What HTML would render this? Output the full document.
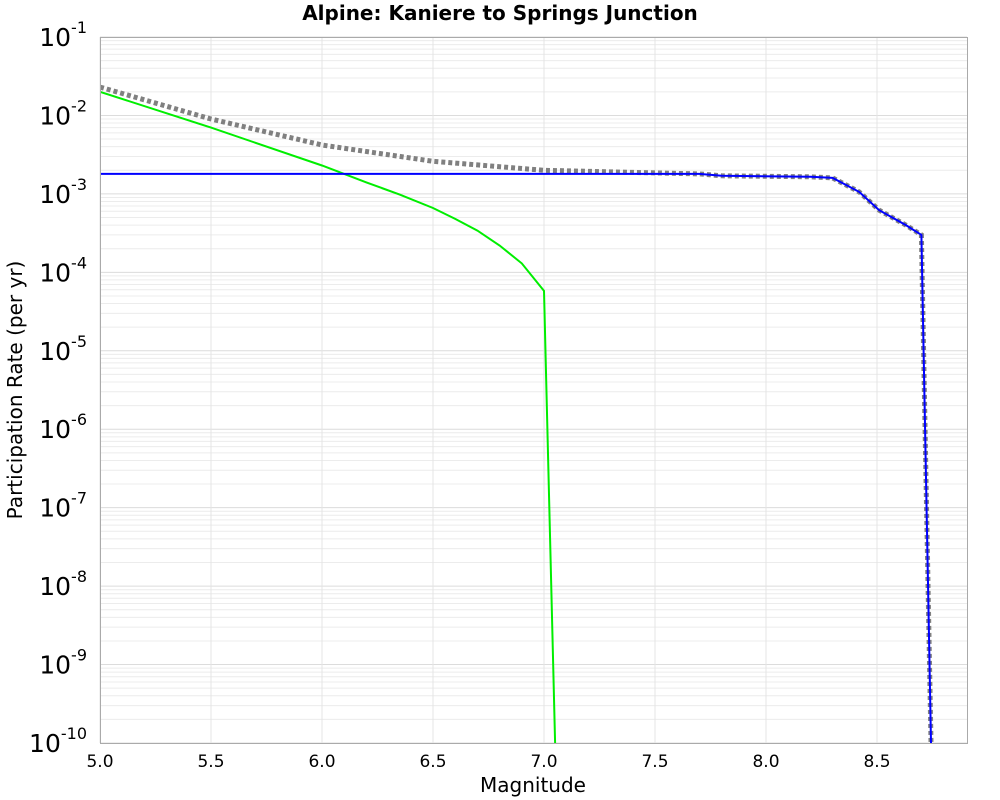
<!DOCTYPE html>
<html><head><meta charset="utf-8"><style>
body{margin:0;background:#fff;}
svg{display:block;font-family:"DejaVu Sans","Liberation Sans",sans-serif;}
</style></head><body>
<svg id="chart" width="1000" height="800">
<text x="500" y="20" text-anchor="middle" font-size="20" font-weight="bold">Alpine: Kaniere to Springs Junction</text>
<g id="grid"></g>
<g id="series"></g>
<g id="axes"></g>
<text x="533" y="792" text-anchor="middle" font-size="20">Magnitude</text>
<text transform="translate(22,390) rotate(-90)" text-anchor="middle" font-size="20">Participation Rate (per yr)</text>
</svg>
<script>
const xTicks=[5.0,5.5,6.0,6.5,7.0,7.5,8.0,8.5];
const yExps=[-1,-2,-3,-4,-5,-6,-7,-8,-9,-10];
const totalMag=[5.0,5.5,6.0,6.5,7.0,7.5,7.7,7.8,8.2,8.3,8.42,8.51,8.63,8.7,8.75];
const totalRate=[2.3e-2,9.0e-3,4.2e-3,2.6e-3,2.0e-3,1.85e-3,1.8e-3,1.7e-3,1.65e-3,1.6e-3,1.06e-3,6.2e-4,4.0e-4,3.0e-4,1e-11];
const blueMag=[5.0,7.7,7.8,8.2,8.3,8.42,8.51,8.63,8.7,8.75];
const blueRate=[1.8e-3,1.8e-3,1.7e-3,1.65e-3,1.6e-3,1.06e-3,6.2e-4,4.0e-4,3.0e-4,1e-11];
const greenMag=[5.0,5.5,6.0,6.1,6.2,6.35,6.5,6.6,6.7,6.8,6.9,7.0,7.05];
const greenRate=[2.0e-2,7.0e-3,2.3e-3,1.8e-3,1.4e-3,9.8e-4,6.6e-4,4.8e-4,3.4e-4,2.2e-4,1.3e-4,5.8e-5,1e-10];
const L=100,R=967,T=37,B=743;
const xs=m=>L+(m-5)*222;
const ys=v=>T+(-1-Math.log10(v))*(B-T)/9;
const NS='http://www.w3.org/2000/svg';
function mk(tag,attrs,parent){const e=document.createElementNS(NS,tag);for(const k in attrs)e.setAttribute(k,attrs[k]);parent.appendChild(e);return e;}
const grid=document.getElementById('grid'),axes=document.getElementById('axes'),ser=document.getElementById('series');
for(const e of yExps){
 for(let k=1;k<=9;k++){
  if(e===-1&&k>1)continue;
  const y=ys(k*Math.pow(10,e));
  const l=mk('line',{x1:L,x2:R,y1:y,y2:y,stroke:k===1?'#dcdcdc':'#ececec','stroke-width':1},grid);
  
  
 }
 const t=mk('text',{x:87,y:ys(Math.pow(10,e))+9,'text-anchor':'end','font-size':25},axes);
 
 
 t.innerHTML='10<tspan dy="-13" font-size="16">'+e+'</tspan>';
}
for(const m of xTicks){
 const x=xs(m);
 const l=mk('line',{x1:x,x2:x,y1:T,y2:B,stroke:'#e4e4e4','stroke-width':1},grid);
 
 
 const t=mk('text',{x:x,y:767,'text-anchor':'middle','font-size':17},axes);
 
 
 t.textContent=m.toFixed(1);
}
const fr=mk('rect',{x:L+0.5,y:T+0.5,width:R-L,height:B-T,fill:'none',stroke:'#aaa'},axes);


const cp=mk('clipPath',{id:'clip'},ser);mk('rect',{x:L,y:T,width:R-L,height:B-T},cp);
function line(ms,rs,attrs,name){
 const d=ms.map((m,i)=>(i?'L':'M')+xs(m).toFixed(1)+','+ys(rs[i]).toFixed(1)).join('');
 const p=mk('path',Object.assign({d:d,fill:'none','clip-path':'url(#clip)'},attrs),ser);
 
 
}
line(totalMag,totalRate,{stroke:'#808080','stroke-width':5,'stroke-dasharray':'4,3'},'total-rate-line');
line(greenMag,greenRate,{stroke:'#00ee00','stroke-width':2},'green-rate-line');
line(blueMag,blueRate,{stroke:'#0000ff','stroke-width':2},'blue-rate-line');
</script>
</body></html>
